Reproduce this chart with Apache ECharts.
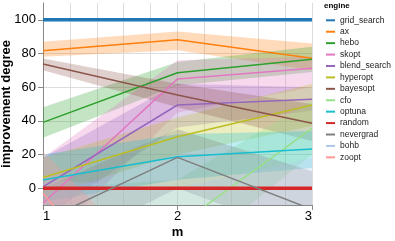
<!DOCTYPE html>
<html><head><meta charset="utf-8">
<script src="https://cdn.jsdelivr.net/npm/echarts@6/dist/echarts.min.js"></script>
<style>html,body{margin:0;padding:0;background:#fff}#c{width:395px;height:241px}</style>
</head><body><div id="c"></div>
<script>
// ---- data ----
const mValues = [1, 2, 3];
const xTicks = [1, 2, 3];
const yTicks = [0, 20, 40, 60, 80, 100];
const engines = ['grid_search','ax','hebo','skopt','blend_search','hyperopt','bayesopt','cfo','optuna','random','nevergrad','bohb','zoopt'];
const engineColors = ['#1f77b4','#ff7f0e','#2ca02c','#e377c2','#9467bd','#bcbd22','#8c564b','#98df8a','#17becf','#d62728','#7f7f7f','#aec7e8','#ff9896'];

const grid_search_mean = [100, 100, 100];
const grid_search_lo   = [100, 100, 100];
const grid_search_hi   = [100, 100, 100];
const ax_mean = [81.7, 88.1, 77.2];
const ax_lo   = [78, 82, 70];
const ax_hi   = [87, 93, 86];
const hebo_mean = [39.1, 68.6, 76.6];
const hebo_lo   = [30, 61, 69];
const hebo_hi   = [48, 75, 84];
const skopt_mean = [-9, 64.9, 71.2];
const skopt_lo   = [-35, 45, 60];
const skopt_hi   = [18, 76, 78];
const blend_search_mean = [0.8, 49.4, 52.8];
const blend_search_lo   = [-18, 36, 46];
const blend_search_hi   = [18, 62, 60];
const hyperopt_mean = [6.3, 30.5, 49.4];
const hyperopt_lo   = [-5, 20, 37];
const hyperopt_hi   = [18, 42, 62];
const bayesopt_mean = [73.8, 55.4, 38.5];
const bayesopt_lo   = [70, 48, 28];
const bayesopt_hi   = [77, 62, 50];
const cfo_mean = [-25, -22.6, 35.5];
const cfo_lo   = [-50, -45, 20];
const cfo_hi   = [0, 5, 52];
const optuna_mean = [4.8, 18.6, 23.2];
const optuna_lo   = [-8, 5, 12];
const optuna_hi   = [20, 32, 34];
const random_mean = [0, 0, 0];
const random_lo   = [0, 0, 0];
const random_hi   = [0, 0, 0];
const nevergrad_mean = [-19.4, 18.3, -12.6];
const nevergrad_lo   = [-40, 0, -30];
const nevergrad_hi   = [0, 35, 10];
const bohb_mean = [-12, -20, -15];
const bohb_lo   = [-35, -40, -40];
const bohb_hi   = [5, 0, 18];
const zoopt_mean = [-3, -100, -100];
const zoopt_lo   = [-30, -130, -130];
const zoopt_hi   = [22, -60, -60];

const meanArr = [grid_search_mean, ax_mean, hebo_mean, skopt_mean, blend_search_mean, hyperopt_mean, bayesopt_mean, cfo_mean, optuna_mean, random_mean, nevergrad_mean, bohb_mean, zoopt_mean];
const loArr = [grid_search_lo, ax_lo, hebo_lo, skopt_lo, blend_search_lo, hyperopt_lo, bayesopt_lo, cfo_lo, optuna_lo, random_lo, nevergrad_lo, bohb_lo, zoopt_lo];
const hiArr = [grid_search_hi, ax_hi, hebo_hi, skopt_hi, blend_search_hi, hyperopt_hi, bayesopt_hi, cfo_hi, optuna_hi, random_hi, nevergrad_hi, bohb_hi, zoopt_hi];

// ---- chart ----
const FONT = 'Liberation Sans, Arial, Helvetica, sans-serif';
const chart = echarts.init(document.getElementById('c'), null, {renderer: 'canvas'});
const series = [];

// gridline helper series (binds secondary axes)
series.push({
  type: 'line', name: '_grid', xAxisIndex: 1, yAxisIndex: 1, data: [[1, -10]],
  symbol: 'none', lineStyle: {opacity: 0}, silent: true
});

engines.forEach((e, i) => {
  const lo = loArr[i], hi = hiArr[i];
  series.push({
    type: 'custom', name: e + '_band', silent: true, z: 1,
    xAxisIndex: 0, yAxisIndex: 0,
    data: [[mValues[0], lo[0]]],
    renderItem: function (params, api) {
      const pts = [];
      mValues.forEach((m, j) => pts.push(api.coord([m, hi[j]])));
      for (let j = mValues.length - 1; j >= 0; j--) pts.push(api.coord([mValues[j], lo[j]]));
      const cs = params.coordSys;
      return {
        type: 'group',
        clipPath: {type: 'rect', shape: {x: cs.x, y: cs.y, width: cs.width, height: cs.height}},
        children: [{
          type: 'polygon',
          shape: {points: pts},
          style: {fill: engineColors[i], opacity: 0.28}
        }]
      };
    }
  });
});
engines.forEach((e, i) => {
  const thick = (e === 'grid_search' || e === 'random');
  series.push({
    type: 'line', name: e,
    data: mValues.map((m, j) => [m, meanArr[i][j]]),
    symbol: 'none', z: 3, clip: true,
    lineStyle: {width: thick ? 3.5 : 1.5, color: engineColors[i]},
    itemStyle: {color: engineColors[i]},
    xAxisIndex: 0, yAxisIndex: 0
  });
});

chart.setOption({
  animation: false,
  textStyle: {fontFamily: FONT},
  grid: {left: 43, right: 83, top: 3, bottom: 36, containLabel: false, outerBoundsMode: 'none'},
  xAxis: [{
    type: 'value', min: 1, max: 3,
    axisLine: {show: true, onZero: false, lineStyle: {color: '#888', width: 1}},
    axisTick: {show: true, customValues: xTicks, length: 5, lineStyle: {color: '#888'}},
    axisLabel: {customValues: xTicks, fontSize: 13, color: '#000', margin: 5, fontFamily: FONT,
      alignMinLabel: 'left', alignMaxLabel: 'right'},
    splitLine: {show: false},
    name: 'm', nameLocation: 'middle', nameGap: 21, nameMoveOverlap: false,
    nameTextStyle: {fontWeight: 'bold', fontSize: 13, color: '#000', fontFamily: FONT}
  }, {
    type: 'value', min: 1, max: 3, interval: 0.2, position: 'bottom', gridIndex: 0,
    axisLine: {show: false, onZero: false}, axisTick: {show: false}, axisLabel: {show: false},
    splitLine: {show: true, lineStyle: {color: '#ddd', width: 1}}
  }],
  yAxis: [{
    type: 'value', min: -10, max: 110,
    axisLine: {show: true, onZero: false, lineStyle: {color: '#888', width: 1}},
    axisTick: {show: true, customValues: yTicks, length: 5, lineStyle: {color: '#888'}},
    axisLabel: {customValues: yTicks, fontSize: 13, color: '#000', margin: 7, fontFamily: FONT},
    splitLine: {show: false},
    name: 'improvement degree', nameLocation: 'middle', nameGap: 30, nameMoveOverlap: false,
    nameTextStyle: {fontWeight: 'bold', fontSize: 13, color: '#000', fontFamily: FONT}
  }, {
    type: 'value', min: -10, max: 110, interval: 10, position: 'left', gridIndex: 0,
    axisLine: {show: false, onZero: false}, axisTick: {show: false}, axisLabel: {show: false},
    splitLine: {show: true, lineStyle: {color: ['rgba(0,0,0,0)', '#ddd'], width: 1}}
  }],
  legend: {
    orient: 'vertical', left: 326, top: 14.6, padding: 0, itemGap: 0,
    itemWidth: 9, itemHeight: 2, icon: 'rect',
    textStyle: {fontSize: 8.5, lineHeight: 11.42, color: '#222', fontFamily: FONT},
    data: engines
  },
  graphic: [{
    type: 'text', left: 324, top: 2,
    style: {text: 'engine', fontSize: 8, fontWeight: 'bold', fill: '#000', fontFamily: FONT}
  }],
  series: series
});
</script>
</body></html>
